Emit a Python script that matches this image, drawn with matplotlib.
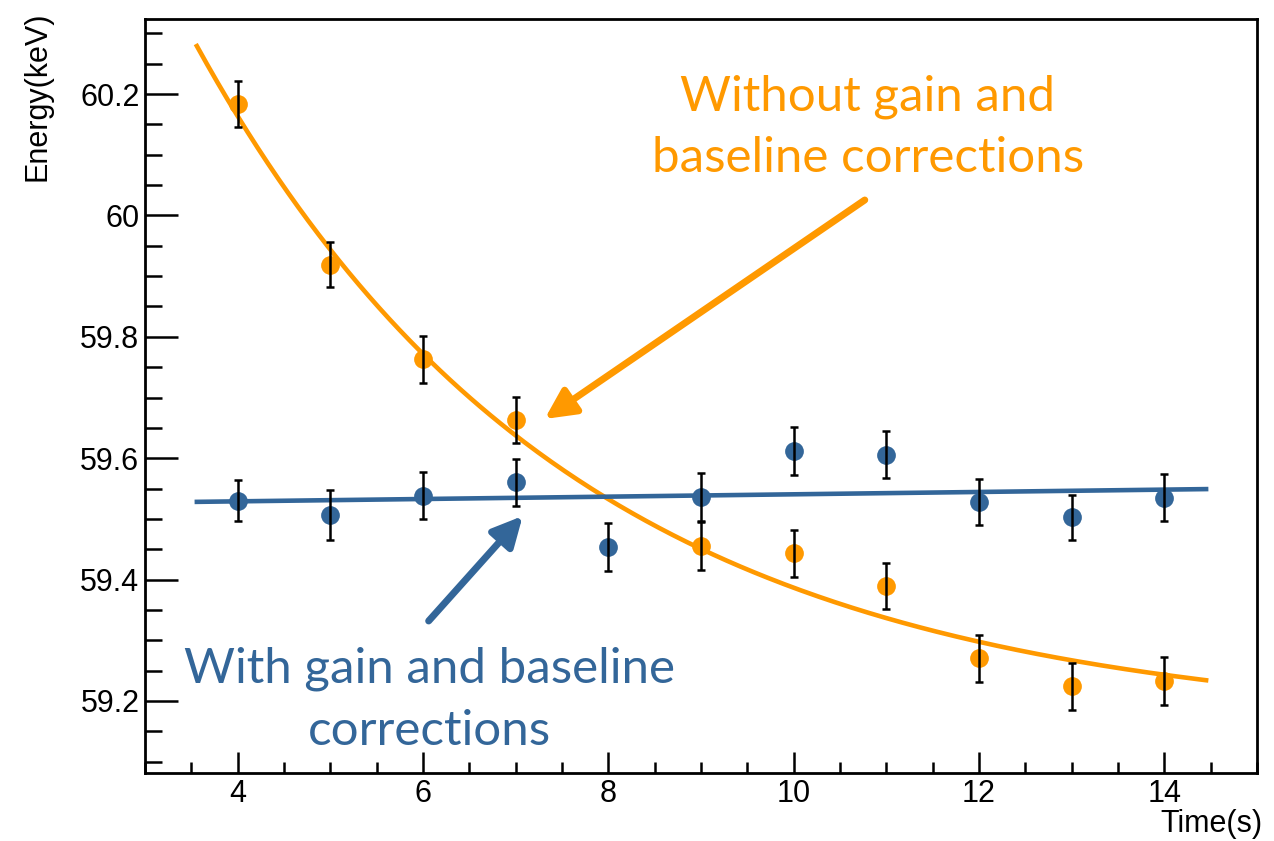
import matplotlib
matplotlib.use("Agg")
import matplotlib.pyplot as plt
import numpy as np
from matplotlib.ticker import MultipleLocator

ORANGE = "#ff9900"
BLUE = "#336699"

# peak position vs time, no corrections applied
time_raw = [4, 5, 6, 7, 9, 10, 11, 12, 13, 14]
energy_raw = [60.183, 59.919, 59.763, 59.663, 59.455, 59.443, 59.390, 59.270, 59.224, 59.233]
err_raw = [0.038, 0.037, 0.039, 0.038, 0.040, 0.038, 0.038, 0.038, 0.039, 0.039]

# same peak after gain and baseline corrections
time_corr = [4, 5, 6, 7, 8, 9, 10, 11, 12, 13, 14]
energy_corr = [59.530, 59.506, 59.538, 59.560, 59.454, 59.536, 59.612, 59.606, 59.528, 59.503, 59.535]
err_corr = [0.034, 0.041, 0.039, 0.039, 0.040, 0.040, 0.039, 0.039, 0.038, 0.037, 0.039]

# fit results: E = c + a*exp(-t/tau) and E = p0 + p1*t
EXP_C, EXP_A, EXP_TAU = 59.158, 2.70, 4.05
LIN_P0, LIN_P1 = 59.5212, 0.00193
FIT_RANGE = (3.56, 14.45)


def main() -> None:
    plt.rcParams["font.family"] = ["Liberation Sans", "DejaVu Sans"]
    fig = plt.figure(figsize=(12.74, 8.41), dpi=100)
    ax = fig.add_axes([0.1138, 0.0809, 0.8729, 0.8965])

    t = np.linspace(*FIT_RANGE, 300)
    ax.plot(t, EXP_C + EXP_A * np.exp(-t / EXP_TAU), color=ORANGE, lw=3.3, zorder=2)
    ax.plot(t, LIN_P0 + LIN_P1 * t, color=BLUE, lw=3.3, zorder=2)

    for x, y, e, c in [(time_raw, energy_raw, err_raw, ORANGE),
                       (time_corr, energy_corr, err_corr, BLUE)]:
        ax.plot(x, y, "o", color=c, ms=13.5, mec="none", zorder=3)
        ax.errorbar(x, y, yerr=e, fmt="none", ecolor="black", elinewidth=1.8,
                    capsize=2.8, capthick=1.8, zorder=4)

    ax.set_xlim(3, 15)
    ax.set_ylim(59.0814, 60.3236)
    ax.xaxis.set_major_locator(MultipleLocator(2))
    ax.xaxis.set_minor_locator(MultipleLocator(0.5))
    ax.yaxis.set_major_locator(MultipleLocator(0.2))
    ax.yaxis.set_minor_locator(MultipleLocator(0.05))
    ax.yaxis.set_major_formatter(lambda v, pos: f"{v:g}")

    ax.tick_params(which="both", direction="in", top=False, right=False,
                   width=1.8, labelsize=22)
    ax.tick_params(axis="x", which="major", length=15, pad=4)
    ax.tick_params(axis="x", which="minor", length=8)
    ax.tick_params(axis="y", which="major", length=24, pad=4)
    ax.tick_params(axis="y", which="minor", length=12)
    for s in ax.spines.values():
        s.set_linewidth(2)

    ax.set_xlabel("Time(s)", fontsize=22, loc="right")
    ax.xaxis.set_label_coords(1.0045, -0.048)
    ax.set_ylabel("Energy(keV)", fontsize=22, loc="top")
    ax.yaxis.set_label_coords(-0.083, 1.0093)

    note_font = dict(family="Lato", fontsize=35.5, ha="center", va="top", linespacing=1.48)
    ax.text(10.80, 60.232, "Without gain and\nbaseline corrections", color=ORANGE, **note_font)
    ax.text(6.07, 59.289, "With gain and baseline\ncorrections", color=BLUE, **note_font)

    head = "-|>,head_length=0.4,head_width=0.2"
    ax.annotate("", xy=(7.313, 59.6646), xytext=(10.767, 60.0254),
                arrowprops=dict(arrowstyle=head, lw=5, color=ORANGE,
                                mutation_scale=45, shrinkA=0, shrinkB=0))
    ax.annotate("", xy=(7.076, 59.5048), xytext=(6.061, 59.3318),
                arrowprops=dict(arrowstyle=head, lw=5, color=BLUE,
                                mutation_scale=45, shrinkA=0, shrinkB=0))

    fig.savefig("out.png", dpi=100)


if __name__ == "__main__":
    main()
